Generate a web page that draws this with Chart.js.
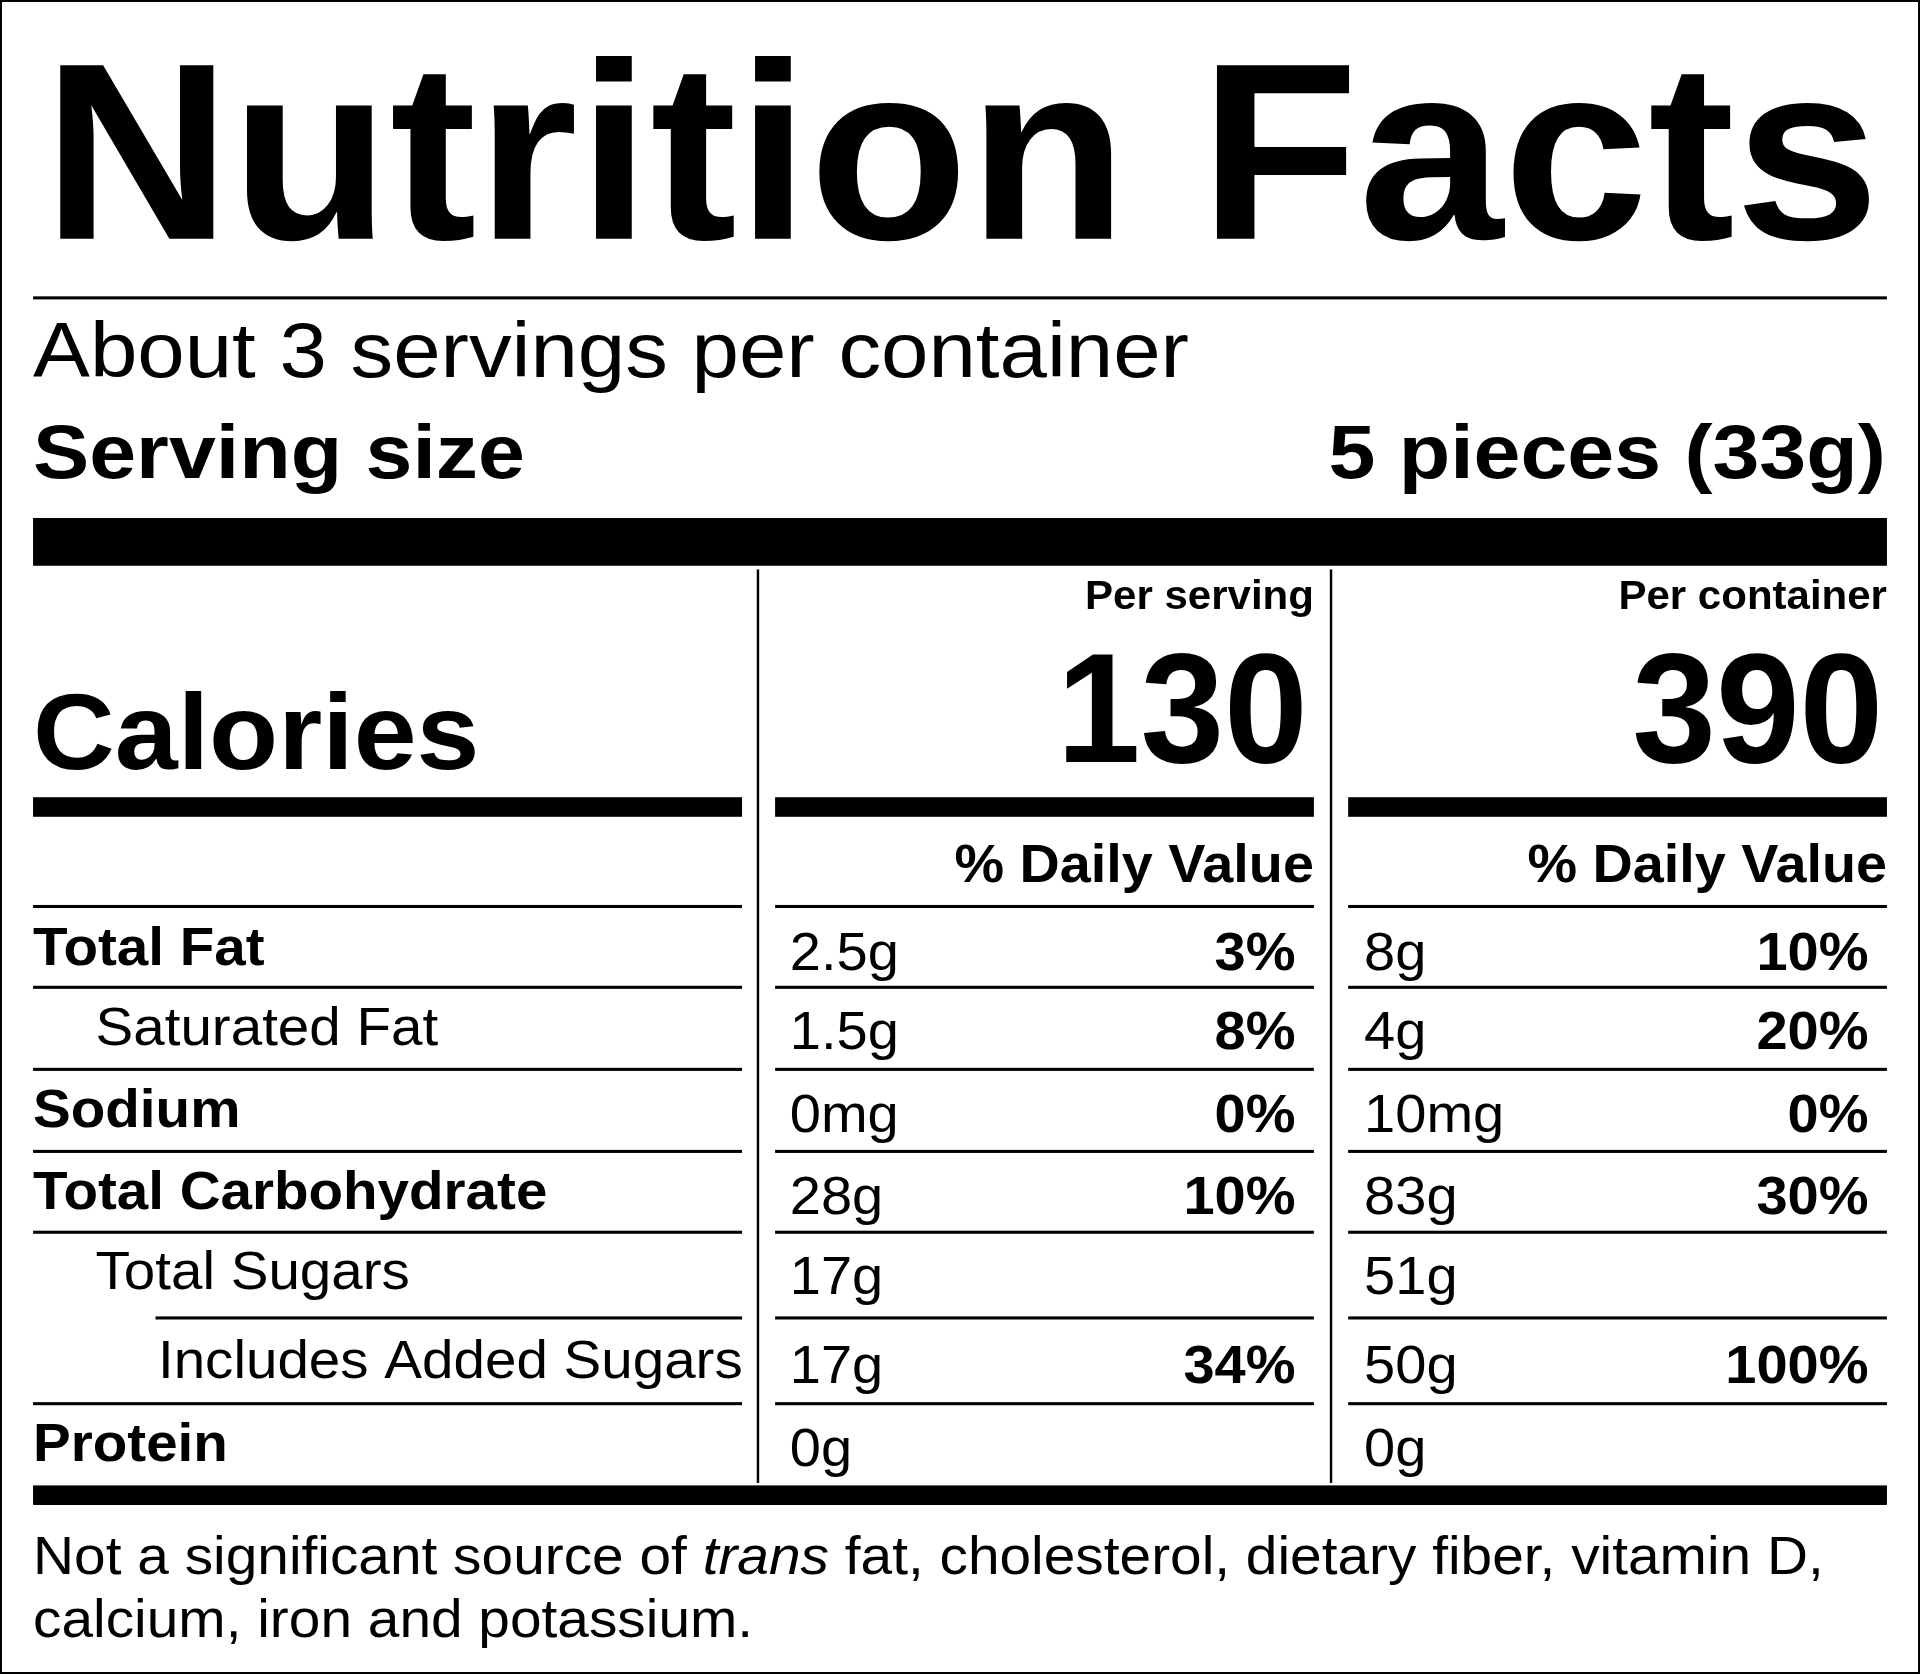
<!DOCTYPE html>
<html>
<head>
<meta charset="utf-8">
<script src="https://cdn.jsdelivr.net/npm/chart.js@4"></script>
<style>
  html, body { margin: 0; padding: 0; background: #fff; }
  canvas { display: block; }
</style>
</head>
<body>
<canvas id="label" width="1920" height="1674"></canvas>
<script>
// ================================
// LABEL DATA
// ================================
let title = "Nutrition Facts";
let servingsText = "About 3 servings per container";
let servingSize = ["Serving size", "5 pieces (33g)"];
let columnHeads = ["Per serving", "Per container"];
let calories = [130, 390];

let nutrients = ["Total Fat", "Saturated Fat", "Sodium", "Total Carbohydrate", "Total Sugars", "Includes Added Sugars", "Protein"];
let nutrientBold = [true, false, true, true, false, false, true];
let nutrientIndent = [0, 1, 0, 0, 1, 2, 0];
let perServing = ["2.5g", "1.5g", "0mg", "28g", "17g", "17g", "0g"];
let pctServing = ["3%", "8%", "0%", "10%", "", "34%", ""];
let perContainer = ["8g", "4g", "10mg", "83g", "51g", "50g", "0g"];
let pctContainer = ["10%", "20%", "0%", "30%", "", "100%", ""];

let footnote = [["Not a significant source of ", ""], ["trans", "italic "], [" fat, cholesterol, dietary fiber, vitamin D,", ""]];
let footnote2 = "calcium, iron and potassium.";

// reference units: label is 1568 x 1367
const W = 1568, H = 1367;
const FONT = '"Liberation Sans", Arial, sans-serif';

// ================================
// DRAWING PLUGIN
// ================================
const labelPlugin = {
  id: "nutritionLabel",
  afterDraw(chart) {
    const c = chart.ctx;
    const sx = chart.scales.x, sy = chart.scales.y;
    const X = v => sx.getPixelForValue(v);
    const Y = v => sy.getPixelForValue(v);
    const k = (X(W) - X(0)) / W;

    // text with a horizontal stretch (the reference face is wider)
    function text(str, x, y, size, weight, align, stretch) {
      c.save();
      c.font = weight + " " + (size * k) + "px " + FONT;
      c.textAlign = align || "left";
      c.textBaseline = "alphabetic";
      c.fillStyle = "#000";
      c.translate(X(x), Y(y));
      c.scale(stretch || 1.04, 1);
      c.fillText(str, 0, 0);
      c.restore();
    }
    function rect(x1, y1, x2, y2) {
      c.fillStyle = "#000";
      c.fillRect(X(x1), Y(y1), X(x2) - X(x1), Y(y2) - Y(y1));
    }

    c.save();
    // border
    c.strokeStyle = "#000";
    c.lineWidth = 2;
    c.strokeRect(X(0) + 1, Y(0) + 1, X(W) - X(0) - 2, Y(H) - Y(0) - 2);

    // title, stretched to width
    c.font = "bold " + (206 * k) + "px " + FONT;
    let tw = c.measureText(title).width;
    let target = X(1535) - X(35);
    c.save();
    c.translate(X(35), Y(195));
    c.scale(target / tw, 1);
    c.textAlign = "left";
    c.fillStyle = "#000";
    c.fillText(title, 0, 0);
    c.restore();

    rect(27, 242, 1541, 244.5);
    text(servingsText, 27, 308, 63, "normal", "left", 1.105);
    text(servingSize[0], 27, 390, 62, "bold", "left", 1.11);
    text(servingSize[1], 1540, 390, 62, "bold", "right", 1.11);
    rect(27, 423, 1541, 462);

    // column dividers
    rect(618, 465, 620, 1211);
    rect(1086, 465, 1088, 1211);

    text(columnHeads[0], 1073, 497, 33, "bold", "right");
    text(columnHeads[1], 1541, 497, 33, "bold", "right");
    text("Calories", 27, 628, 88, "bold", "left", 1.05);
    text(String(calories[0]), 1068, 622, 128, "bold", "right", 0.96);
    text(String(calories[1]), 1538, 622, 128, "bold", "right", 0.96);

    const segs = [[27, 606], [633, 1073], [1101, 1541]];
    segs.forEach(s => rect(s[0], 651, s[1], 667));
    text("% Daily Value", 1073, 720, 44, "bold", "right", 1.035);
    text("% Daily Value", 1541, 720, 44, "bold", "right", 1.035);

    const lineY = [740, 806, 873, 940, 1006, 1076, 1146];
    const labelBase = [788, 853, 920, 987, 1053, 1125, 1193];
    lineY.forEach((ly, i) => {
      let left = i === 5 ? 127 : 27;
      rect(left, ly - 1, segs[0][1], ly + 1.5);
      rect(segs[1][0], ly - 1, segs[1][1], ly + 1.5);
      rect(segs[2][0], ly - 1, segs[2][1], ly + 1.5);
    });

    nutrients.forEach((n, i) => {
      let b = labelBase[i];
      text(n, 27 + nutrientIndent[i] * 51, b, 44, nutrientBold[i] ? "bold" : "normal", "left", 1.05);
      text(perServing[i], 645, b + 4, 44, "normal");
      if (pctServing[i]) text(pctServing[i], 1058, b + 4, 44, "bold", "right");
      text(perContainer[i], 1114, b + 4, 44, "normal");
      if (pctContainer[i]) text(pctContainer[i], 1526, b + 4, 44, "bold", "right");
    });

    rect(27, 1213, 1541, 1229);

    // footnote with italic "trans"
    const fs = 1.055;
    c.save();
    c.translate(X(27), Y(1285));
    c.scale(fs, 1);
    c.textAlign = "left";
    c.fillStyle = "#000";
    let fx = 0;
    footnote.forEach(p => {
      c.font = p[1] + (44 * k) + "px " + FONT;
      c.fillText(p[0], fx, 0);
      fx += c.measureText(p[0]).width;
    });
    c.restore();
    text(footnote2, 27, 1337, 44, "normal", "left", fs);
    c.restore();
  }
};

// ================================
// CHART INITIALIZATION
// ================================
let ctx = document.getElementById("label").getContext("2d");
let labelChart = new Chart(ctx, {
  type: "scatter",
  data: { datasets: [{ data: [], pointRadius: 0 }] },
  options: {
    responsive: false,
    animation: false,
    devicePixelRatio: 1,
    layout: { padding: 0 },
    plugins: { legend: { display: false }, tooltip: { enabled: false } },
    scales: {
      x: { type: "linear", min: 0, max: W, display: false },
      y: { type: "linear", min: 0, max: H, reverse: true, display: false }
    }
  },
  plugins: [labelPlugin]
});
</script>
</body>
</html>
